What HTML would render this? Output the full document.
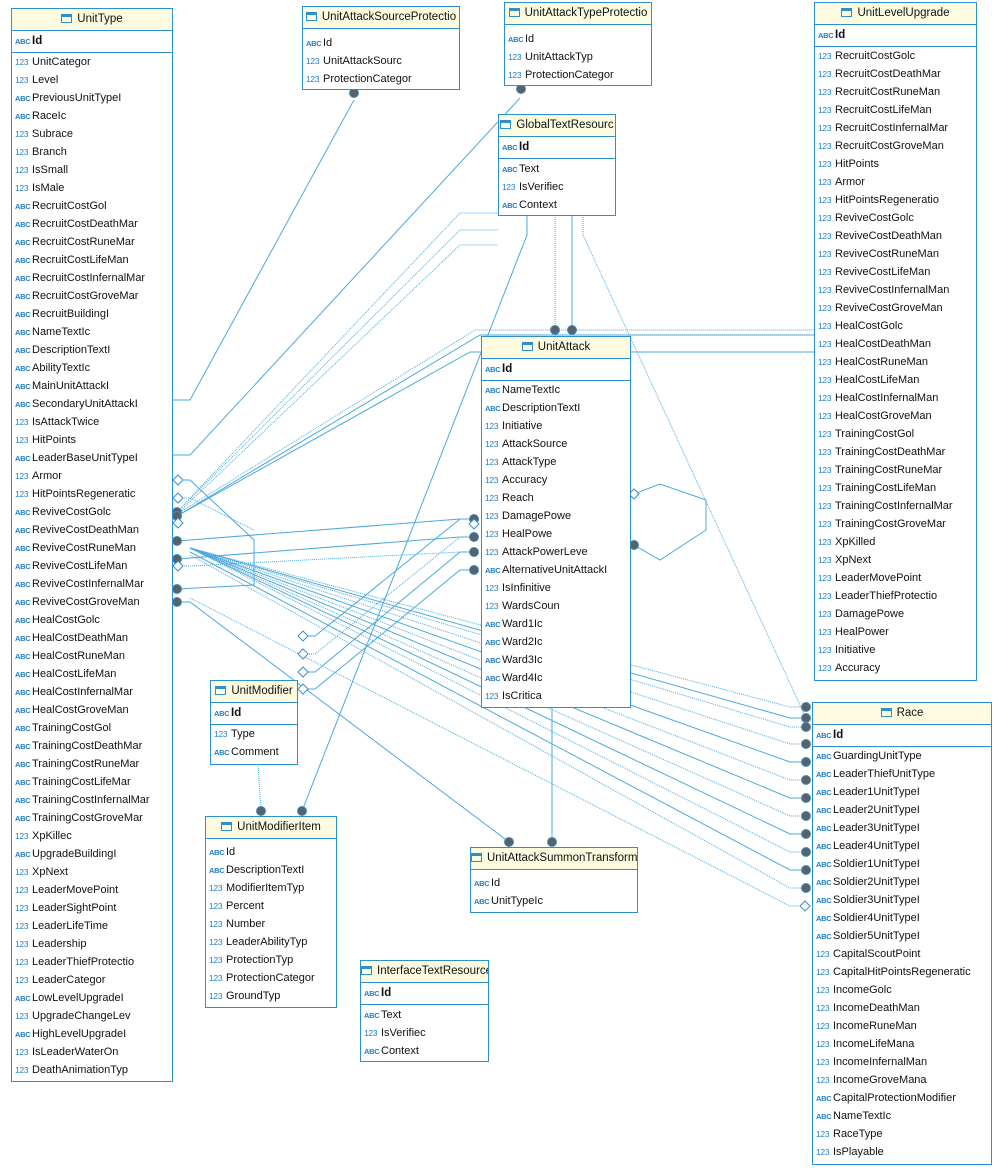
<!DOCTYPE html>
<html><head><meta charset="utf-8"><style>
body{margin:0;width:1000px;height:1168px;background:#fff;position:relative;overflow:hidden;font-family:"Liberation Sans",sans-serif;font-size:11px;color:#111}
svg.c{position:absolute;left:0;top:0}
.b{position:absolute;border:1px solid #2d8fcb;background:#fff;box-sizing:border-box;overflow:hidden}
.h{height:21px;background:#fcfbe0;border-bottom:1px solid #2d8fcb;text-align:center;line-height:21px;font-size:11.5px;white-space:nowrap;overflow:hidden}
.h s{display:inline-block;width:11px;height:9px;border:1.5px solid #2d8fcb;border-top-width:3px;box-sizing:border-box;vertical-align:-1px;margin-right:5px;text-decoration:none}
.k{height:21px;border-bottom:1px solid #2d8fcb;line-height:21px;font-weight:bold;padding-left:3px;font-size:11.5px}
.r{height:18px;line-height:18px;padding-left:3px;white-space:nowrap;overflow:hidden}
i{font-style:normal;font-size:7.5px;color:#1f7fc4;font-weight:bold;display:inline-block;width:17px;letter-spacing:-.3px}
i.n{font-weight:normal;font-size:8.5px}
</style></head><body>
<svg class="c" width="1000" height="1168" fill="none" stroke="#4ba9dc" stroke-width="1">
<g>
<path d="M172 400H190L354 100"/>
<path d="M172 455H190L520 98"/>
<path d="M177 512L460 213H498" stroke-dasharray="1 1"/>
<path d="M177 512L460 230H498" stroke-dasharray="1 1"/>
<path d="M177 514L460 245H498" stroke-dasharray="1 1"/>
<path d="M177 514L475 330H814" stroke-dasharray="1 1"/>
<path d="M177 516L480 335H814"/>
<path d="M177 516L470 352H814"/>
<path d="M555 215V330" stroke-dasharray="1 1"/>
<path d="M572 215V330"/>
<path d="M583 215V235L806 718" stroke-dasharray="1 1"/>
<path d="M527 215V235L302 811"/>
<path d="M177 541L460 519H474"/>
<path d="M177 559L460 537H474"/>
<path d="M178 480H190L254 540V585L177 589"/>
<path d="M178 498H190L254 530" stroke-dasharray="1 1"/>
<path d="M178 566H190L460 552H474" stroke-dasharray="1 1"/>
<path d="M303 636H315L460 519H474"/>
<path d="M303 654H315L460 537H474" stroke-dasharray="1 1"/>
<path d="M303 672H315L460 552H474"/>
<path d="M303 689H315L460 570H474"/>
<path d="M634 494L660 484L706 500V530L660 560L634 545"/>
<path d="M258 764L261 811" stroke-dasharray="1 1"/>
<path d="M552 707V842"/>
<path d="M177 602H190L509 842"/>
<path d="M190 548L790 707H806" stroke-dasharray="1 1"/>
<path d="M190 548L790 718H806"/>
<path d="M190 548L790 727H806" stroke-dasharray="1 1"/>
<path d="M190 548L790 744H806" stroke-dasharray="1 1"/>
<path d="M190 548L790 762H806"/>
<path d="M190 548L790 780H806" stroke-dasharray="1 1"/>
<path d="M190 548L790 798H806"/>
<path d="M190 548L790 816H806" stroke-dasharray="1 1"/>
<path d="M190 548L790 834H806"/>
<path d="M190 548L790 852H806" stroke-dasharray="1 1"/>
<path d="M190 552L790 870H806"/>
<path d="M190 555L790 888H806" stroke-dasharray="1 1"/>
<path d="M190 598L790 906H800" stroke-dasharray="1 1"/>
</g>
<g fill="#5a6168" stroke="#3d8fc4">
<circle cx="354" cy="93" r="4.5"/><circle cx="521" cy="89" r="4.5"/>
<circle cx="177" cy="512" r="4.5"/><circle cx="177" cy="516" r="4.5"/><circle cx="177" cy="541" r="4.5"/><circle cx="177" cy="559" r="4.5"/><circle cx="177" cy="589" r="4.5"/><circle cx="177" cy="602" r="4.5"/>
<circle cx="555" cy="330" r="4.5"/><circle cx="572" cy="330" r="4.5"/>
<circle cx="474" cy="519" r="4.5"/><circle cx="474" cy="537" r="4.5"/><circle cx="474" cy="552" r="4.5"/><circle cx="474" cy="570" r="4.5"/>
<circle cx="634" cy="545" r="4.5"/>
<circle cx="261" cy="811" r="4.5"/><circle cx="302" cy="811" r="4.5"/>
<circle cx="509" cy="842" r="4.5"/><circle cx="552" cy="842" r="4.5"/>
<circle cx="806" cy="707" r="4.5"/><circle cx="806" cy="718" r="4.5"/><circle cx="806" cy="727" r="4.5"/><circle cx="806" cy="744" r="4.5"/><circle cx="806" cy="762" r="4.5"/><circle cx="806" cy="780" r="4.5"/><circle cx="806" cy="798" r="4.5"/><circle cx="806" cy="816" r="4.5"/><circle cx="806" cy="834" r="4.5"/><circle cx="806" cy="852" r="4.5"/><circle cx="806" cy="870" r="4.5"/><circle cx="806" cy="888" r="4.5"/>
</g>
<g fill="#fff" stroke="#3d8fc4">
<path d="M173 480l5-5 5 5-5 5z"/><path d="M173 498l5-5 5 5-5 5z"/><path d="M173 523l5-5 5 5-5 5z"/><path d="M173 566l5-5 5 5-5 5z"/>
<path d="M298 636l5-5 5 5-5 5z"/><path d="M298 654l5-5 5 5-5 5z"/><path d="M298 672l5-5 5 5-5 5z"/><path d="M298 689l5-5 5 5-5 5z"/>
<path d="M629 494l5-5 5 5-5 5z"/><path d="M469 524l5-5 5 5-5 5z"/><path d="M800 906l5-5 5 5-5 5z"/>
</g>
</svg>

<div class="b" style="left:11px;top:8px;width:162px;height:1074px">
<div class="h"><s></s>UnitType</div><div class="k"><i>ABC</i>Id</div>
<div class="r"><i class="n">123</i>UnitCategor</div><div class="r"><i class="n">123</i>Level</div><div class="r"><i>ABC</i>PreviousUnitTypeI</div><div class="r"><i>ABC</i>RaceIc</div><div class="r"><i class="n">123</i>Subrace</div><div class="r"><i class="n">123</i>Branch</div><div class="r"><i class="n">123</i>IsSmall</div><div class="r"><i class="n">123</i>IsMale</div><div class="r"><i>ABC</i>RecruitCostGol</div><div class="r"><i>ABC</i>RecruitCostDeathMar</div><div class="r"><i>ABC</i>RecruitCostRuneMar</div><div class="r"><i>ABC</i>RecruitCostLifeMan</div><div class="r"><i>ABC</i>RecruitCostInfernalMar</div><div class="r"><i>ABC</i>RecruitCostGroveMar</div><div class="r"><i>ABC</i>RecruitBuildingI</div><div class="r"><i>ABC</i>NameTextIc</div><div class="r"><i>ABC</i>DescriptionTextI</div><div class="r"><i>ABC</i>AbilityTextIc</div><div class="r"><i>ABC</i>MainUnitAttackI</div><div class="r"><i>ABC</i>SecondaryUnitAttackI</div><div class="r"><i class="n">123</i>IsAttackTwice</div><div class="r"><i class="n">123</i>HitPoints</div><div class="r"><i>ABC</i>LeaderBaseUnitTypeI</div><div class="r"><i class="n">123</i>Armor</div><div class="r"><i class="n">123</i>HitPointsRegeneratic</div><div class="r"><i>ABC</i>ReviveCostGolc</div><div class="r"><i>ABC</i>ReviveCostDeathMan</div><div class="r"><i>ABC</i>ReviveCostRuneMan</div><div class="r"><i>ABC</i>ReviveCostLifeMan</div><div class="r"><i>ABC</i>ReviveCostInfernalMar</div><div class="r"><i>ABC</i>ReviveCostGroveMan</div><div class="r"><i>ABC</i>HealCostGolc</div><div class="r"><i>ABC</i>HealCostDeathMan</div><div class="r"><i>ABC</i>HealCostRuneMan</div><div class="r"><i>ABC</i>HealCostLifeMan</div><div class="r"><i>ABC</i>HealCostInfernalMar</div><div class="r"><i>ABC</i>HealCostGroveMan</div><div class="r"><i>ABC</i>TrainingCostGol</div><div class="r"><i>ABC</i>TrainingCostDeathMar</div><div class="r"><i>ABC</i>TrainingCostRuneMar</div><div class="r"><i>ABC</i>TrainingCostLifeMar</div><div class="r"><i>ABC</i>TrainingCostInfernalMar</div><div class="r"><i>ABC</i>TrainingCostGroveMar</div><div class="r"><i class="n">123</i>XpKillec</div><div class="r"><i>ABC</i>UpgradeBuildingI</div><div class="r"><i class="n">123</i>XpNext</div><div class="r"><i class="n">123</i>LeaderMovePoint</div><div class="r"><i class="n">123</i>LeaderSightPoint</div><div class="r"><i class="n">123</i>LeaderLifeTime</div><div class="r"><i class="n">123</i>Leadership</div><div class="r"><i class="n">123</i>LeaderThiefProtectio</div><div class="r"><i class="n">123</i>LeaderCategor</div><div class="r"><i>ABC</i>LowLevelUpgradeI</div><div class="r"><i class="n">123</i>UpgradeChangeLev</div><div class="r"><i>ABC</i>HighLevelUpgradeI</div><div class="r"><i class="n">123</i>IsLeaderWaterOn</div><div class="r"><i class="n">123</i>DeathAnimationTyp</div>
</div>

<div class="b" style="left:302px;top:6px;width:158px;height:84px">
<div class="h"><s></s>UnitAttackSourceProtectio</div><div style="height:5px"></div>
<div class="r"><i>ABC</i>Id</div><div class="r"><i class="n">123</i>UnitAttackSourc</div><div class="r"><i class="n">123</i>ProtectionCategor</div></div>

<div class="b" style="left:504px;top:2px;width:148px;height:84px">
<div class="h"><s></s>UnitAttackTypeProtectio</div><div style="height:5px"></div>
<div class="r"><i>ABC</i>Id</div><div class="r"><i class="n">123</i>UnitAttackTyp</div><div class="r"><i class="n">123</i>ProtectionCategor</div></div>

<div class="b" style="left:498px;top:114px;width:118px;height:102px">
<div class="h"><s></s>GlobalTextResourc</div><div class="k"><i>ABC</i>Id</div><div style="height:1px"></div>
<div class="r"><i>ABC</i>Text</div><div class="r"><i class="n">123</i>IsVerifiec</div><div class="r"><i>ABC</i>Context</div></div>

<div class="b" style="left:481px;top:336px;width:150px;height:372px">
<div class="h"><s></s>UnitAttack</div><div class="k"><i>ABC</i>Id</div>
<div class="r"><i>ABC</i>NameTextIc</div><div class="r"><i>ABC</i>DescriptionTextI</div><div class="r"><i class="n">123</i>Initiative</div><div class="r"><i class="n">123</i>AttackSource</div><div class="r"><i class="n">123</i>AttackType</div><div class="r"><i class="n">123</i>Accuracy</div><div class="r"><i class="n">123</i>Reach</div><div class="r"><i class="n">123</i>DamagePowe</div><div class="r"><i class="n">123</i>HealPowe</div><div class="r"><i class="n">123</i>AttackPowerLeve</div><div class="r"><i>ABC</i>AlternativeUnitAttackI</div><div class="r"><i class="n">123</i>IsInfinitive</div><div class="r"><i class="n">123</i>WardsCoun</div><div class="r"><i>ABC</i>Ward1Ic</div><div class="r"><i>ABC</i>Ward2Ic</div><div class="r"><i>ABC</i>Ward3Ic</div><div class="r"><i>ABC</i>Ward4Ic</div><div class="r"><i class="n">123</i>IsCritica</div></div>

<div class="b" style="left:814px;top:2px;width:163px;height:679px">
<div class="h"><s></s>UnitLevelUpgrade</div><div class="k"><i>ABC</i>Id</div>
<div class="r"><i class="n">123</i>RecruitCostGolc</div><div class="r"><i class="n">123</i>RecruitCostDeathMar</div><div class="r"><i class="n">123</i>RecruitCostRuneMan</div><div class="r"><i class="n">123</i>RecruitCostLifeMan</div><div class="r"><i class="n">123</i>RecruitCostInfernalMar</div><div class="r"><i class="n">123</i>RecruitCostGroveMan</div><div class="r"><i class="n">123</i>HitPoints</div><div class="r"><i class="n">123</i>Armor</div><div class="r"><i class="n">123</i>HitPointsRegeneratio</div><div class="r"><i class="n">123</i>ReviveCostGolc</div><div class="r"><i class="n">123</i>ReviveCostDeathMan</div><div class="r"><i class="n">123</i>ReviveCostRuneMan</div><div class="r"><i class="n">123</i>ReviveCostLifeMan</div><div class="r"><i class="n">123</i>ReviveCostInfernalMan</div><div class="r"><i class="n">123</i>ReviveCostGroveMan</div><div class="r"><i class="n">123</i>HealCostGolc</div><div class="r"><i class="n">123</i>HealCostDeathMan</div><div class="r"><i class="n">123</i>HealCostRuneMan</div><div class="r"><i class="n">123</i>HealCostLifeMan</div><div class="r"><i class="n">123</i>HealCostInfernalMan</div><div class="r"><i class="n">123</i>HealCostGroveMan</div><div class="r"><i class="n">123</i>TrainingCostGol</div><div class="r"><i class="n">123</i>TrainingCostDeathMar</div><div class="r"><i class="n">123</i>TrainingCostRuneMar</div><div class="r"><i class="n">123</i>TrainingCostLifeMan</div><div class="r"><i class="n">123</i>TrainingCostInfernalMar</div><div class="r"><i class="n">123</i>TrainingCostGroveMar</div><div class="r"><i class="n">123</i>XpKilled</div><div class="r"><i class="n">123</i>XpNext</div><div class="r"><i class="n">123</i>LeaderMovePoint</div><div class="r"><i class="n">123</i>LeaderThiefProtectio</div><div class="r"><i class="n">123</i>DamagePowe</div><div class="r"><i class="n">123</i>HealPower</div><div class="r"><i class="n">123</i>Initiative</div><div class="r"><i class="n">123</i>Accuracy</div></div>

<div class="b" style="left:812px;top:702px;width:180px;height:463px">
<div class="h"><s></s>Race</div><div class="k"><i>ABC</i>Id</div>
<div class="r"><i>ABC</i>GuardingUnitType</div><div class="r"><i>ABC</i>LeaderThiefUnitType</div><div class="r"><i>ABC</i>Leader1UnitTypeI</div><div class="r"><i>ABC</i>Leader2UnitTypeI</div><div class="r"><i>ABC</i>Leader3UnitTypeI</div><div class="r"><i>ABC</i>Leader4UnitTypeI</div><div class="r"><i>ABC</i>Soldier1UnitTypeI</div><div class="r"><i>ABC</i>Soldier2UnitTypeI</div><div class="r"><i>ABC</i>Soldier3UnitTypeI</div><div class="r"><i>ABC</i>Soldier4UnitTypeI</div><div class="r"><i>ABC</i>Soldier5UnitTypeI</div><div class="r"><i class="n">123</i>CapitalScoutPoint</div><div class="r"><i class="n">123</i>CapitalHitPointsRegeneratic</div><div class="r"><i class="n">123</i>IncomeGolc</div><div class="r"><i class="n">123</i>IncomeDeathMan</div><div class="r"><i class="n">123</i>IncomeRuneMan</div><div class="r"><i class="n">123</i>IncomeLifeMana</div><div class="r"><i class="n">123</i>IncomeInfernalMan</div><div class="r"><i class="n">123</i>IncomeGroveMana</div><div class="r"><i>ABC</i>CapitalProtectionModifier</div><div class="r"><i>ABC</i>NameTextIc</div><div class="r"><i class="n">123</i>RaceType</div><div class="r"><i class="n">123</i>IsPlayable</div></div>

<div class="b" style="left:210px;top:680px;width:88px;height:85px">
<div class="h"><s></s>UnitModifier</div><div class="k"><i>ABC</i>Id</div>
<div class="r"><i class="n">123</i>Type</div><div class="r"><i>ABC</i>Comment</div></div>

<div class="b" style="left:205px;top:816px;width:132px;height:192px">
<div class="h"><s></s>UnitModifierItem</div><div style="height:4px"></div>
<div class="r"><i>ABC</i>Id</div><div class="r"><i>ABC</i>DescriptionTextI</div><div class="r"><i class="n">123</i>ModifierItemTyp</div><div class="r"><i class="n">123</i>Percent</div><div class="r"><i class="n">123</i>Number</div><div class="r"><i class="n">123</i>LeaderAbilityTyp</div><div class="r"><i class="n">123</i>ProtectionTyp</div><div class="r"><i class="n">123</i>ProtectionCategor</div><div class="r"><i class="n">123</i>GroundTyp</div></div>

<div class="b" style="left:470px;top:847px;width:168px;height:66px">
<div class="h"><s></s>UnitAttackSummonTransform</div><div style="height:4px"></div>
<div class="r"><i>ABC</i>Id</div><div class="r"><i>ABC</i>UnitTypeIc</div></div>

<div class="b" style="left:360px;top:960px;width:129px;height:102px">
<div class="h"><s></s>InterfaceTextResource</div><div class="k"><i>ABC</i>Id</div><div style="height:1px"></div>
<div class="r"><i>ABC</i>Text</div><div class="r"><i class="n">123</i>IsVerifiec</div><div class="r"><i>ABC</i>Context</div></div>
</body></html>
